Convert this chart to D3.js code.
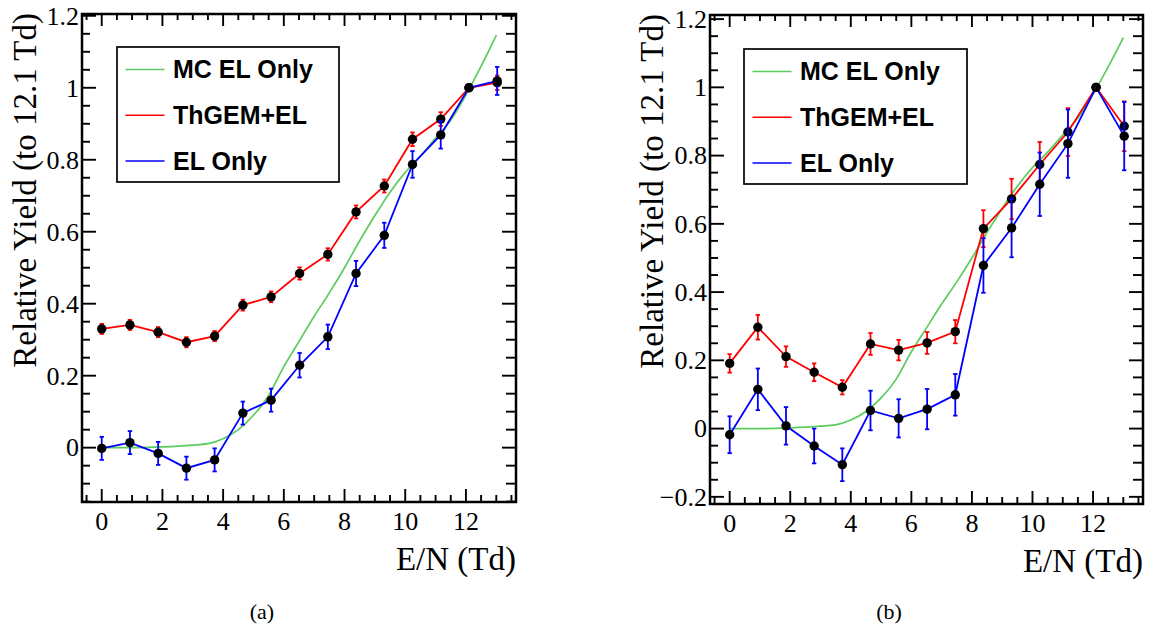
<!DOCTYPE html>
<html>
<head>
<meta charset="utf-8">
<script src="https://cdn.jsdelivr.net/npm/d3@7"></script>
<style>
  html, body { margin: 0; padding: 0; background: #fff; }
  svg { display: block; }
  .serif { font-family: "Liberation Serif", "Times New Roman", Times, serif; }
  .sans { font-family: "Liberation Sans", Arial, Helvetica, sans-serif; font-weight: bold; }
</style>
</head>
<body>
<svg id="chart" width="1153" height="632"></svg>
<script>
// E/N values of the measured points (Td)
const enPoints = [0, 0.93, 1.86, 2.79, 3.72, 4.65, 5.58, 6.52, 7.45, 8.38, 9.31, 10.24, 11.17, 12.1, 13.03];

// (a)
const thgemA    = [0.330, 0.341, 0.321, 0.293, 0.310, 0.396, 0.419, 0.484, 0.537, 0.655, 0.727, 0.857, 0.913, 1.0, 1.014];
const thgemErrA = [0.014, 0.014, 0.014, 0.014, 0.014, 0.015, 0.015, 0.017, 0.017, 0.018, 0.018, 0.019, 0.019, 0, 0.02];
const elA       = [-0.002, 0.014, -0.016, -0.057, -0.034, 0.096, 0.132, 0.229, 0.308, 0.484, 0.590, 0.787, 0.869, 1.0, 1.019];
const elErrA    = [0.032, 0.032, 0.032, 0.032, 0.032, 0.032, 0.032, 0.034, 0.034, 0.035, 0.035, 0.037, 0.038, 0, 0.039];

// (b)
const thgemB    = [0.191, 0.297, 0.211, 0.165, 0.121, 0.248, 0.230, 0.251, 0.284, 0.586, 0.673, 0.774, 0.869, 1.0, 0.886];
const thgemErrB = [0.027, 0.036, 0.030, 0.026, 0.021, 0.032, 0.030, 0.032, 0.034, 0.054, 0.059, 0.066, 0.070, 0, 0.073];
const elB       = [-0.018, 0.115, 0.008, -0.051, -0.106, 0.053, 0.030, 0.057, 0.099, 0.478, 0.588, 0.716, 0.835, 1.0, 0.857];
const elErrB    = [0.054, 0.061, 0.055, 0.051, 0.048, 0.058, 0.056, 0.059, 0.061, 0.080, 0.086, 0.093, 0.100, 0, 0.100];

// MC EL only curve (same simulation in both panels)
const mcEN    = [0, 1, 2, 3, 3.5, 4, 4.5, 5, 5.5, 6, 6.5, 7, 7.5, 8, 8.5, 9, 9.5, 10, 10.5, 11, 11.5, 12, 12.5, 13];
const mcYield = [0, 0, 0.002, 0.007, 0.011, 0.025, 0.05, 0.09, 0.145, 0.225, 0.295, 0.365, 0.43, 0.5, 0.575, 0.645, 0.71, 0.765, 0.81, 0.86, 0.91, 0.98, 1.06, 1.146];

const xMajorTicks = [0, 2, 4, 6, 8, 10, 12];
const legendLabels = ["MC EL Only", "ThGEM+EL", "EL Only"];
const captions = ["(a)", "(b)"];

const colors = { mc: "#5ccc5c", thgem: "#ff0000", el: "#0000ff" };

const svg = d3.select("#chart");

const panels = [
  { box: { l: 82, t: 14, r: 516, b: 502 }, yDomain: [-0.151, 1.205],
    thgem: thgemA, thgemErr: thgemErrA, el: elA, elErr: elErrA,
    legend: { l: 117, t: 47, r: 339, b: 182 }, yTitleX: 36, caption: captions[0], capX: 262 },
  { box: { l: 710, t: 15, r: 1143, b: 504 }, yDomain: [-0.221, 1.212],
    thgem: thgemB, thgemErr: thgemErrB, el: elB, elErr: elErrB,
    legend: { l: 744, t: 49, r: 967, b: 184 }, yTitleX: 663, caption: captions[1], capX: 889 }
];

function fmt(v) {
  const s = String(+v.toFixed(1));
  return s.replace("-", "\u2212");
}

function drawPanel(p) {
  const { box } = p;
  const x = d3.scaleLinear().domain([-0.65, 13.65]).range([box.l, box.r]);
  const y = d3.scaleLinear().domain(p.yDomain).range([box.b, box.t]);
  const g = svg.append("g");

  // ticks
  const xMinor = d3.range(-0.5, 13.6, 0.5).filter(v => !xMajorTicks.includes(v));
  const yMajor = d3.range(-1, 1.3, 0.2).map(v => +v.toFixed(2)).filter(v => v >= p.yDomain[0] - 1e-6 && v <= p.yDomain[1] + 1e-6);
  const yMinor = d3.range(-1, 1.25, 0.05).map(v => +v.toFixed(2))
    .filter(v => v > p.yDomain[0] && v < p.yDomain[1] && !yMajor.includes(v));

  const tickG = g.append("g").attr("stroke", "#000").attr("stroke-width", 1.9);
  xMajorTicks.forEach(v => {
    tickG.append("line").attr("x1", x(v)).attr("x2", x(v)).attr("y1", box.b).attr("y2", box.b - 13);
    tickG.append("line").attr("x1", x(v)).attr("x2", x(v)).attr("y1", box.t).attr("y2", box.t + 12);
  });
  xMinor.forEach(v => {
    tickG.append("line").attr("x1", x(v)).attr("x2", x(v)).attr("y1", box.b).attr("y2", box.b - 7);
    tickG.append("line").attr("x1", x(v)).attr("x2", x(v)).attr("y1", box.t).attr("y2", box.t + 6);
  });
  yMajor.forEach(v => {
    tickG.append("line").attr("x1", box.l).attr("x2", box.l + 14).attr("y1", y(v)).attr("y2", y(v));
    tickG.append("line").attr("x1", box.r).attr("x2", box.r - 14).attr("y1", y(v)).attr("y2", y(v));
  });
  yMinor.forEach(v => {
    tickG.append("line").attr("x1", box.l).attr("x2", box.l + 8).attr("y1", y(v)).attr("y2", y(v));
    tickG.append("line").attr("x1", box.r).attr("x2", box.r - 10).attr("y1", y(v)).attr("y2", y(v));
  });

  // tick labels
  g.append("g").selectAll("text").data(xMajorTicks).join("text")
    .attr("class", "serif").attr("font-size", 26)
    .attr("x", d => x(d)).attr("y", box.b + 28)
    .attr("text-anchor", "middle")
    .text(d => d);
  g.append("g").selectAll("text").data(yMajor).join("text")
    .attr("class", "serif").attr("font-size", 26)
    .attr("x", box.l - 3).attr("y", d => y(d)).attr("dy", "0.34em")
    .attr("text-anchor", "end")
    .text(d => fmt(d));

  // axis titles
  g.append("text")
    .attr("class", "serif").attr("font-size", 33)
    .attr("transform", `translate(${p.yTitleX},${box.t - 1}) rotate(-90)`)
    .attr("text-anchor", "end")
    .text("Relative Yield (to 12.1 Td)");
  g.append("text")
    .attr("class", "serif").attr("font-size", 33)
    .attr("x", box.r).attr("y", box.b + 68)
    .attr("text-anchor", "end")
    .text("E/N (Td)");

  // MC curve
  const mcLine = d3.line().x((d, i) => x(mcEN[i])).y(d => y(d)).curve(d3.curveMonotoneX);
  g.append("path").datum(mcYield)
    .attr("d", mcLine)
    .attr("fill", "none").attr("stroke", colors.mc).attr("stroke-width", 1.7);

  // data series
  const series = [
    { vals: p.thgem, errs: p.thgemErr, color: colors.thgem },
    { vals: p.el, errs: p.elErr, color: colors.el }
  ];
  const dataLine = d3.line().x((d, i) => x(enPoints[i])).y(d => y(d));
  series.forEach(s => {
    const sg = g.append("g");
    sg.append("path").datum(s.vals)
      .attr("d", dataLine)
      .attr("fill", "none").attr("stroke", s.color).attr("stroke-width", 1.8);
    const eb = sg.append("g").attr("stroke", s.color).attr("stroke-width", 1.8);
    s.vals.forEach((v, i) => {
      if (!s.errs[i]) return;
      const cx = x(enPoints[i]);
      const y0 = y(v - s.errs[i]), y1 = y(v + s.errs[i]);
      eb.append("line").attr("x1", cx).attr("x2", cx).attr("y1", y0).attr("y2", y1);
      eb.append("line").attr("x1", cx - 2.2).attr("x2", cx + 2.2).attr("y1", y0).attr("y2", y0);
      eb.append("line").attr("x1", cx - 2.2).attr("x2", cx + 2.2).attr("y1", y1).attr("y2", y1);
    });
    sg.append("g").selectAll("circle").data(s.vals).join("circle")
      .attr("cx", (d, i) => x(enPoints[i])).attr("cy", d => y(d))
      .attr("r", 4.7).attr("fill", "#000");
  });

  // frame
  g.append("rect")
    .attr("x", box.l).attr("y", box.t)
    .attr("width", box.r - box.l).attr("height", box.b - box.t)
    .attr("fill", "none").attr("stroke", "#000").attr("stroke-width", 2.5);

  // legend
  const lg = p.legend;
  const lgG = g.append("g");
  lgG.append("rect")
    .attr("x", lg.l).attr("y", lg.t)
    .attr("width", lg.r - lg.l).attr("height", lg.b - lg.t)
    .attr("fill", "#fff").attr("stroke", "#000").attr("stroke-width", 1.7);
  const legendColors = [colors.mc, colors.thgem, colors.el];
  const rowY = d3.scaleLinear().domain([0, 2]).range([lg.t + 22.5, lg.t + 114]);
  legendLabels.forEach((label, i) => {
    const ly = rowY(i);
    lgG.append("line")
      .attr("x1", lg.l + 8.5).attr("x2", lg.l + 47.5)
      .attr("y1", ly).attr("y2", ly)
      .attr("stroke", legendColors[i]).attr("stroke-width", 1.7);
    lgG.append("text")
      .attr("class", "sans").attr("font-size", 25)
      .attr("x", lg.l + 56).attr("y", ly + 8.5)
      .text(label);
  });

  // caption
  g.append("text")
    .attr("class", "serif").attr("font-size", 22)
    .attr("x", p.capX).attr("y", 619)
    .attr("text-anchor", "middle")
    .text(p.caption);
}

panels.forEach(drawPanel);
</script>
</body>
</html>
